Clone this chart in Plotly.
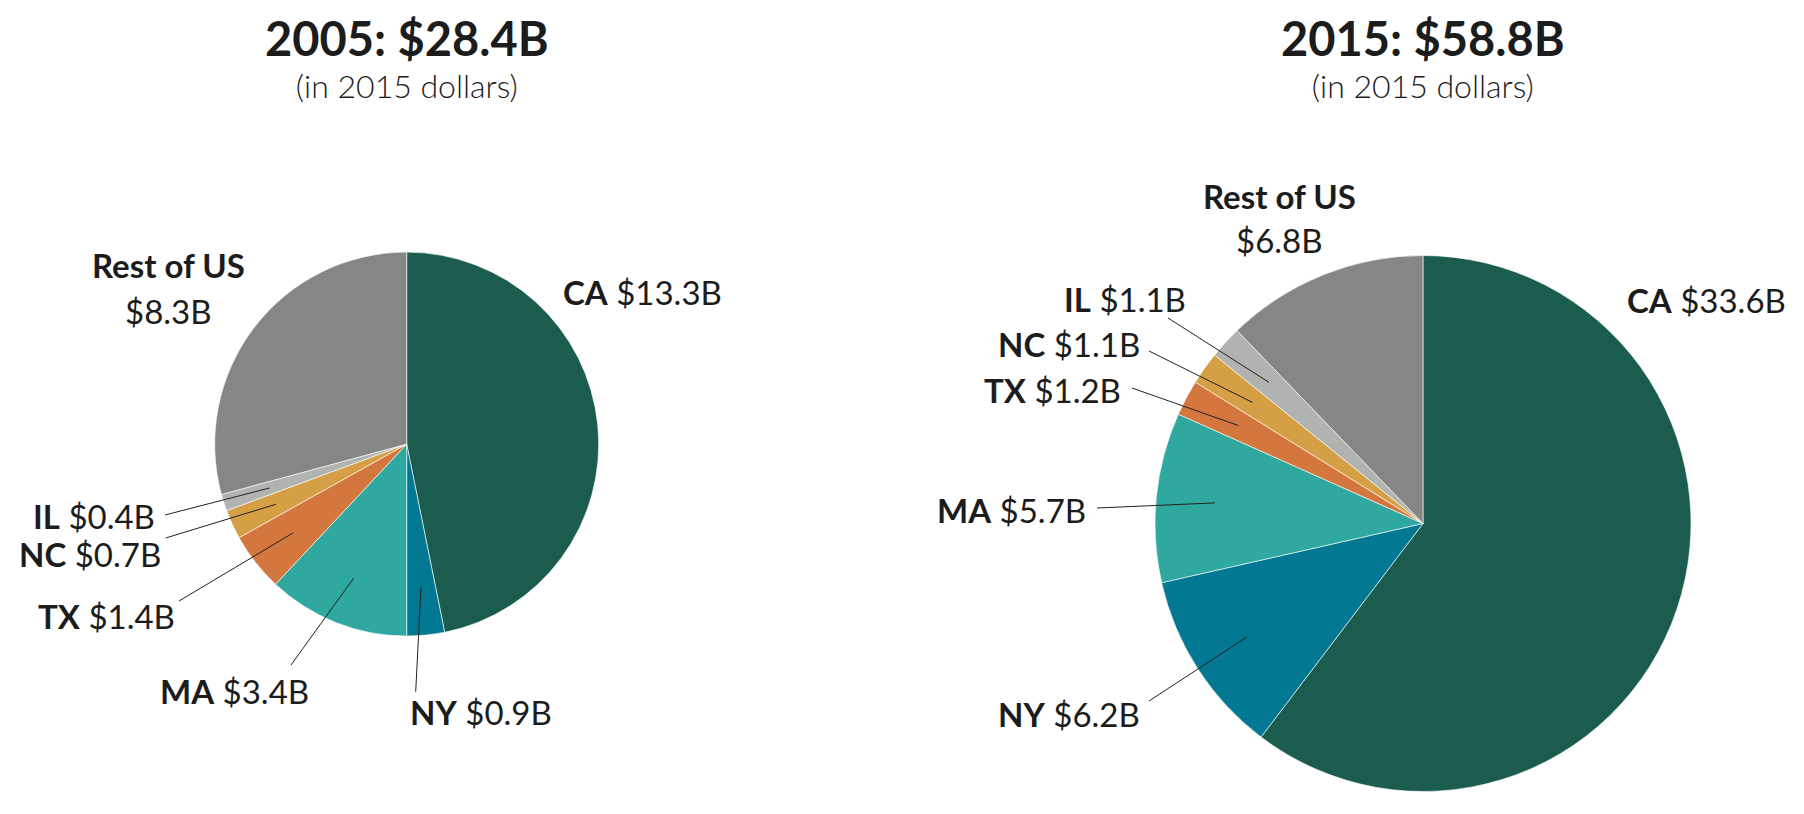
import math
import plotly.graph_objects as go

W, H = 1804, 814

states = ["CA", "NY", "MA", "TX", "NC", "IL", "Rest of US"]
values_2005 = [13.3, 0.9, 3.4, 1.4, 0.7, 0.4, 8.3]
values_2015 = [33.6, 6.2, 5.7, 1.2, 1.1, 1.1, 6.8]
titles = ["2005: $28.4B", "2015: $58.8B"]
subtitle = "(in 2015 dollars)"
colors = ["#1b5c4f", "#037893", "#2fa8a0", "#d4773f", "#d49f45", "#b1b3b0", "#858785"]

FONT = "Lato"
DARK = "#1c1c1c"
LBL = 33

# pie geometry (pixels): centre and radius
pies = [
    dict(vals=values_2005, cx=406.7, cy=444.1, r=192, title=titles[0]),
    dict(vals=values_2015, cx=1423.0, cy=523.5, r=268, title=titles[1]),
]

# label anchors in pixels: (x, y, xanchor, leader start x, leader start y)
label_pos = [
    {"CA": (561, 292, "left", None, None),
     "NY": (408, 712, "left", 415.7, 691.7),
     "MA": (311, 691, "right", 291, 665),
     "TX": (177, 616, "right", 179, 601),
     "NC": (163, 554, "right", 165.7, 538),
     "IL": (157, 516, "right", 165, 515)},
    {"CA": (1625, 300, "left", None, None),
     "NY": (1142, 714, "right", 1149, 701),
     "MA": (1088, 510, "right", 1097, 508),
     "TX": (1123, 390, "right", 1132, 388),
     "NC": (1142, 344, "right", 1149, 351),
     "IL": (1188, 299, "right", 1168, 318)},
]
rest_pos = [(168, 265, 311), (1279, 196, 240)]
leader_frac = [0.75, 0.78]

def px2x(px):
    return px / W

def py2y(py):
    return 1 - py / H

fig = go.Figure()
annotations = []
shapes = []

for i, p in enumerate(pies):
    cx, cy, r = p["cx"], p["cy"], p["r"]
    fig.add_trace(go.Pie(
        labels=states, values=p["vals"], sort=False, direction="clockwise",
        rotation=0, textinfo="none", hoverinfo="label+value",
        marker=dict(colors=colors, line=dict(width=0.6, color="#ffffff")),
        domain=dict(x=[px2x(cx - r), px2x(cx + r)], y=[py2y(cy + r), py2y(cy - r)]),
        showlegend=False,
    ))
    annotations.append(dict(
        x=px2x(cx), y=py2y(57), xref="paper", yref="paper",
        text="<span style='font-size:47px;font-weight:bold'>%s</span><br>%s" % (p["title"], subtitle),
        showarrow=False,
        font=dict(family=FONT, size=32, color=DARK, weight=300),
        xanchor="center", yanchor="middle"))
    total = sum(p["vals"])
    cum = 0.0
    for name, v in zip(states, p["vals"]):
        mid = (cum + v / 2) / total * 2 * math.pi
        cum += v
        if name == "Rest of US":
            x0, y1, y2 = rest_pos[i]
            annotations.append(dict(x=px2x(x0), y=py2y(y1), xref="paper", yref="paper",
                                    text="<b>Rest of US</b>", showarrow=False,
                                    font=dict(family=FONT, size=LBL, color=DARK),
                                    xanchor="center", yanchor="middle"))
            annotations.append(dict(x=px2x(x0), y=py2y(y2), xref="paper", yref="paper",
                                    text="$%.1fB" % v, showarrow=False,
                                    font=dict(family=FONT, size=LBL, color=DARK),
                                    xanchor="center", yanchor="middle"))
            continue
        tx, ty, xa, sx, sy = label_pos[i][name]
        annotations.append(dict(x=px2x(tx), y=py2y(ty), xref="paper", yref="paper",
                                text="<b>%s</b> $%.1fB" % (name, v), showarrow=False,
                                font=dict(family=FONT, size=LBL, color=DARK),
                                xanchor=xa, yanchor="middle"))
        if sx is not None:
            hx = cx + leader_frac[i] * r * math.sin(mid)
            hy = cy - leader_frac[i] * r * math.cos(mid)
            shapes.append(dict(type="line", xref="paper", yref="paper",
                               x0=px2x(sx), y0=py2y(sy), x1=px2x(hx), y1=py2y(hy),
                               line=dict(color="#222222", width=1)))

fig.update_layout(
    width=W, height=H, margin=dict(l=0, r=0, t=0, b=0),
    paper_bgcolor="#ffffff", plot_bgcolor="#ffffff",
    annotations=annotations, shapes=shapes,
)
fig.write_html("out.html", config={"displayModeBar": False})
